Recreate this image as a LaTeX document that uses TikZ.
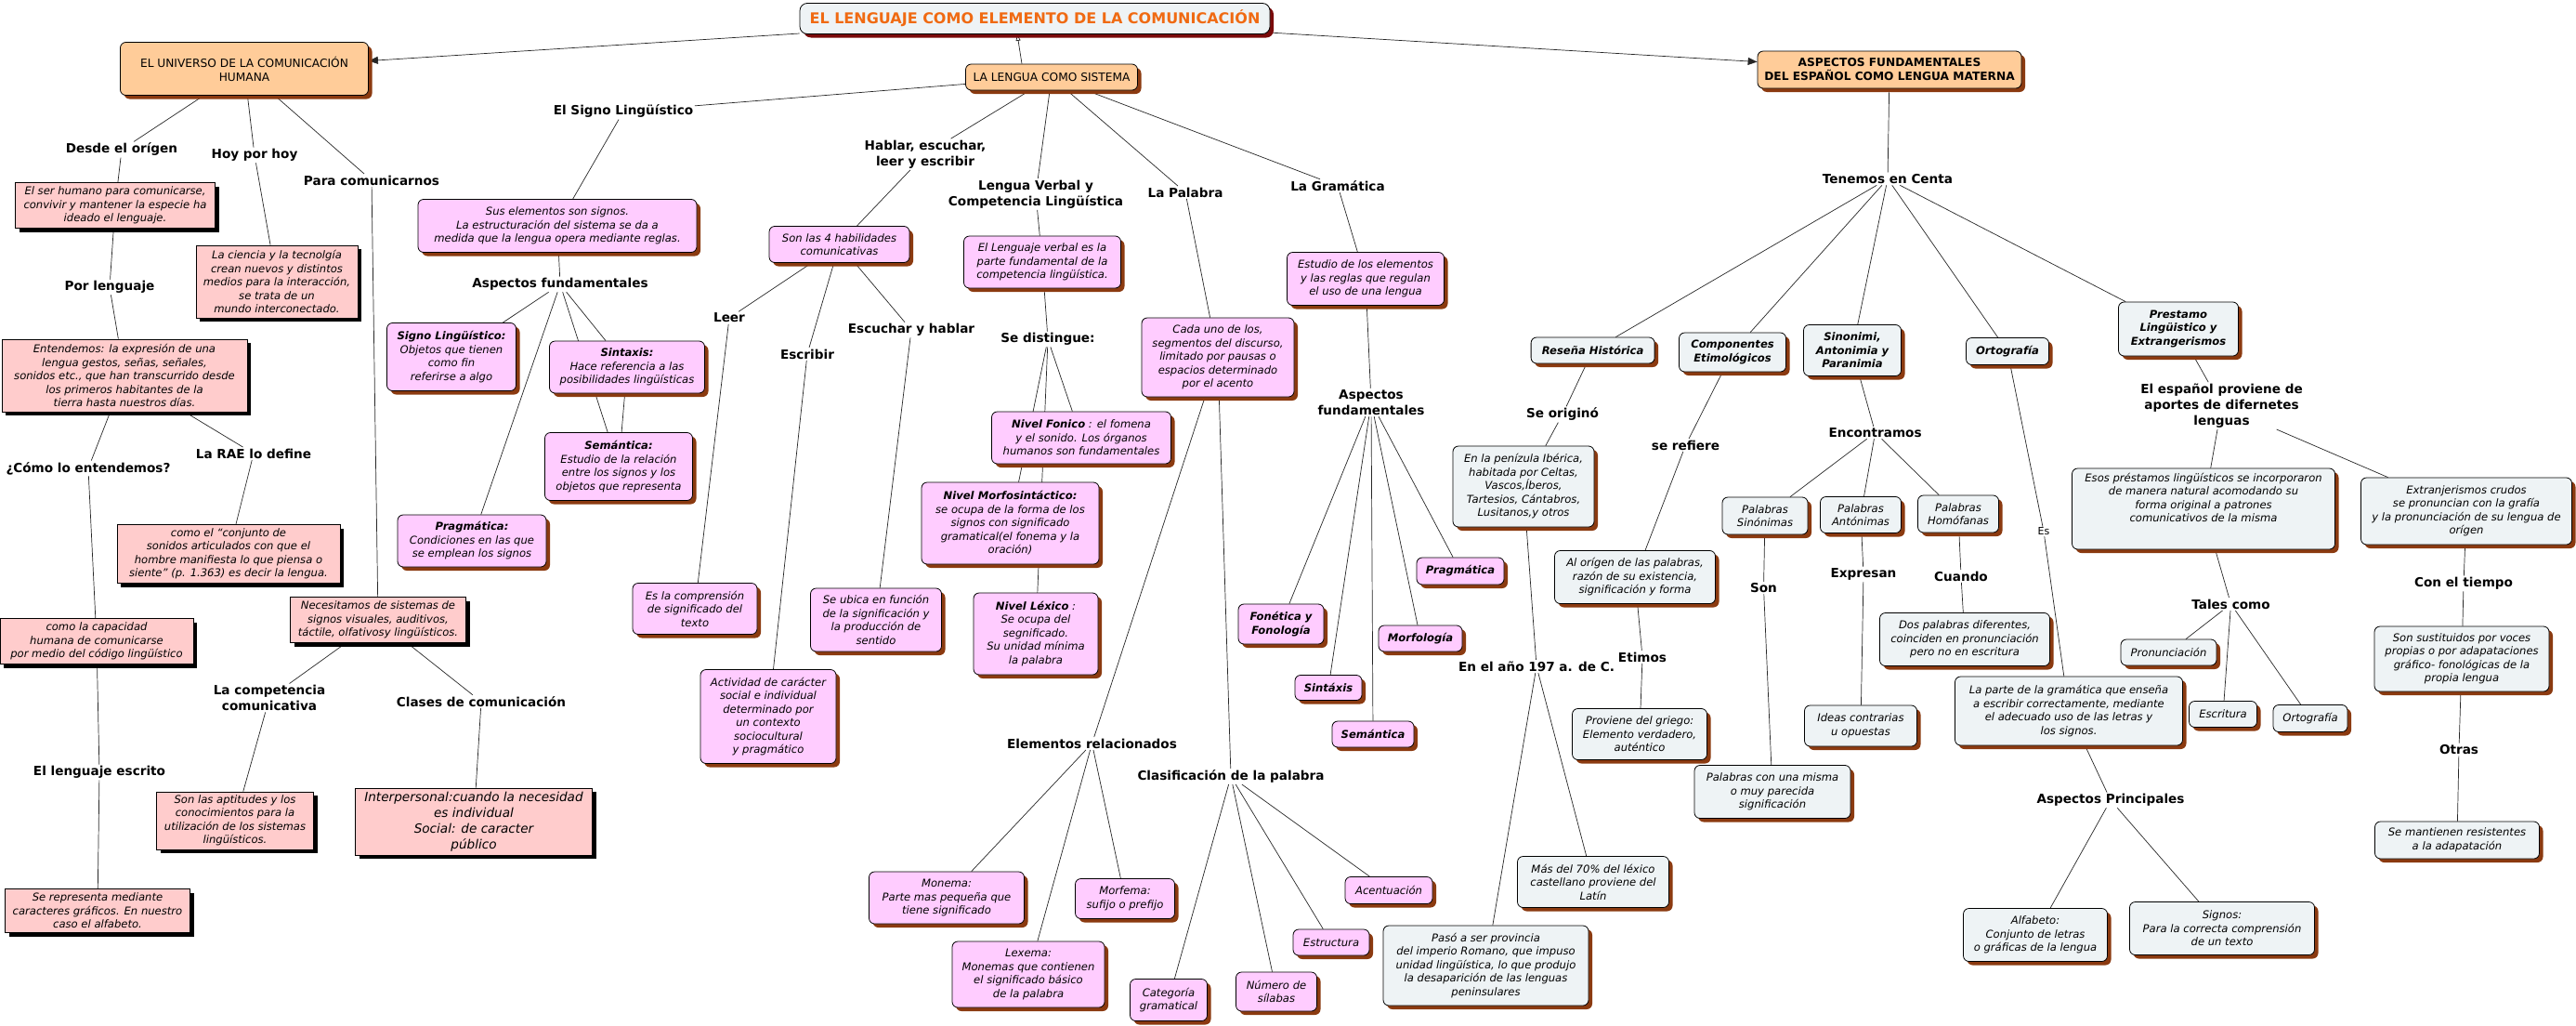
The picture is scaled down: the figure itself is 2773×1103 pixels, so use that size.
\documentclass[tikz,border=0pt]{standalone}
\usepackage{fontspec}
\setmainfont{DejaVu Sans}
\usepackage{tikz}
\usetikzlibrary{arrows.meta,shadows,calc}
\definecolor{peach}{HTML}{FFCC99}
\definecolor{salmon}{HTML}{FFCCCC}
\definecolor{lilac}{HTML}{FFCCFF}
\definecolor{paleblue}{HTML}{EEF3F5}
\definecolor{rust}{HTML}{8B3A10}
\definecolor{darkred}{HTML}{7A0A0A}
\definecolor{titleorange}{HTML}{F06A12}
\newcommand{\boxtext}{\fontsize{11.6}{14.5}\selectfont\itshape}
\newcommand{\linktext}{\fontsize{13.6}{17}\selectfont\bfseries}
\newcommand{\headtext}{\fontsize{12.2}{15}\selectfont}
\newcommand{\titletext}{\fontsize{16}{19}\selectfont\bfseries}
\pgfdeclarelayer{background}
\pgfsetlayers{background,main}

\begin{document}
\begin{tikzpicture}[
    x=1pt, y=-1pt,
    boxsize/.style 2 args={minimum width=#1pt, minimum height=#2pt},
    concept/.style={draw=black, line width=0.8pt, align=center, inner sep=2pt, font=\boxtext},
    rustshadow/.style={drop shadow={shadow xshift=4pt, shadow yshift=-4pt, fill=rust, opacity=1}},
    titlebox/.style={concept, rounded corners=8pt, fill=paleblue, font=\titletext, text=titleorange, drop shadow={shadow xshift=4pt, shadow yshift=-4pt, fill=darkred, opacity=1}},
    headbox/.style={concept, rounded corners=6pt, fill=peach, font=\headtext, rustshadow},
    salmonbox/.style={concept, fill=salmon, drop shadow={shadow xshift=4pt, shadow yshift=-4pt, fill=black, opacity=1}},
    pinkbox/.style={concept, rounded corners=6pt, fill=lilac, rustshadow},
    bluebox/.style={concept, rounded corners=6pt, fill=paleblue, rustshadow},
    phrase/.style={font=\linktext, align=center, inner sep=1.5pt},
    link/.style={draw=black!85, line width=0.7pt},
    headarrow/.style={link, -{Triangle[length=10pt, width=8pt]}},
    backarrow/.style={link, -{Triangle[open, length=7pt, width=5pt]}}
]
    \useasboundingbox (0,0) rectangle (2773,1103);

    % --- MAIN CONCEPTS ---
    \node[titlebox, boxsize={506}{33}] (title) at (1114,20) {EL LENGUAJE COMO ELEMENTO DE LA COMUNICACIÓN};
    \node[headbox, boxsize={267}{57}] (univ) at (263,74) {EL UNIVERSO DE LA COMUNICACIÓN\\HUMANA};
    \node[headbox, boxsize={185}{28}] (lengua) at (1132,83) {LA LENGUA COMO SISTEMA};
    \node[headbox, boxsize={284}{40}, font=\headtext\bfseries] (espanol) at (2034,75) {ASPECTOS FUNDAMENTALES\\DEL ESPAÑOL COMO LENGUA MATERNA};

    % --- EL UNIVERSO DE LA COMUNICACION ---
    \node[phrase] (desde) at (131,161) {Desde el orígen};
    \node[phrase] (hoy) at (274,167) {Hoy por hoy};
    \node[phrase] (paracom) at (400,194) {Para comunicarnos};
    \node[salmonbox, boxsize={215}{49}] (serhumano) at (124,221) {El ser humano para comunicarse,\\convivir y mantener la especie ha\\ideado el lenguaje.};
    \node[salmonbox, boxsize={174}{78}] (ciencia) at (298,303) {La ciencia y la tecnolgía\\crean nuevos y distintos\\medios para la interacción,\\se trata de un\\mundo interconectado.};
    \node[phrase] (porleng) at (118,309) {Por lenguaje};
    \node[salmonbox, boxsize={264}{78}] (entendemos) at (134,404) {Entendemos: la expresión de una\\lengua gestos, señas, señales,\\sonidos etc., que han transcurrido desde\\los primeros habitantes de la\\tierra hasta nuestros días.};
    \node[phrase] (como) at (95,504) {¿Cómo lo entendemos?};
    \node[phrase] (rae) at (273,488) {La RAE lo define};
    \node[salmonbox, boxsize={240}{63}] (conjunto) at (246,596) {como el “conjunto de\\sonidos articulados con que el\\hombre manifiesta lo que piensa o\\siente” (p. 1.363) es decir la lengua.};
    \node[salmonbox, boxsize={208}{49}] (capacidad) at (104,690) {como la capacidad\\humana de comunicarse\\por medio del código lingüístico};
    \node[phrase] (escrito) at (107,831) {El lenguaje escrito};
    \node[salmonbox, boxsize={199}{47}] (representa) at (105,980) {Se representa mediante\\caracteres gráficos. En nuestro\\caso el alfabeto.};
    \node[salmonbox, boxsize={189}{49}] (necesitamos) at (407,667) {Necesitamos de sistemas de\\signos visuales, auditivos,\\táctile, olfativosy lingüísticos.};
    \node[phrase] (competencia) at (290,751) {La competencia\\comunicativa};
    \node[phrase] (clases) at (518,755) {Clases de comunicación};
    \node[salmonbox, boxsize={169}{62}] (aptitudes) at (253,883) {Son las aptitudes y los\\conocimientos para la\\utilización de los sistemas\\lingüísticos.};
    \node[salmonbox, boxsize={255}{72}, font=\fontsize{13.6}{17}\selectfont\itshape] (interpersonal) at (510,884) {Interpersonal:cuando la necesidad\\es individual\\Social: de caracter\\público};

    % --- LA LENGUA COMO SISTEMA ---
    \node[phrase] (signo) at (671,120) {El Signo Lingüístico};
    \node[pinkbox, boxsize={300}{57}] (suselem) at (600,243) {Sus elementos son signos.\\La estructuración del sistema se da a\\medida que la lengua opera mediante reglas.};
    \node[phrase] (aspfund) at (603,306) {Aspectos fundamentales};
    \node[pinkbox, boxsize={139}{73}] (signoling) at (486,384) {\textbf{Signo Lingüístico:}\\Objetos que tienen\\como fin\\referirse a algo};
    \node[pinkbox, boxsize={167}{56}] (sintaxis) at (675,395) {\textbf{Sintaxis:}\\Hace referencia a las\\posibilidades lingüísticas};
    \node[pinkbox, boxsize={159}{73}] (semantica) at (666,502) {\textbf{Semántica:}\\Estudio de la relación\\entre los signos y los\\objetos que representa};
    \node[pinkbox, boxsize={160}{56}] (pragmatica) at (508,582) {\textbf{Pragmática:}\\Condiciones en las que\\se emplean los signos};

    \node[phrase] (hablar) at (996,166) {Hablar, escuchar,\\leer y escribir};
    \node[pinkbox, boxsize={151}{39}] (habilidades) at (903.5,263) {Son las 4 habilidades\\comunicativas};
    \node[phrase] (leer) at (785,342) {Leer};
    \node[phrase] (escribir) at (869,381) {Escribir};
    \node[phrase] (escuchar) at (981,355) {Escuchar y hablar};
    \node[pinkbox, boxsize={134}{55}] (comprension) at (748,655) {Es la comprensión\\de significado del\\texto};
    \node[pinkbox, boxsize={146}{101}] (actividad) at (827,771) {Actividad de carácter\\social e individual\\determinado por\\un contexto\\sociocultural\\y pragmático};
    \node[pinkbox, boxsize={141}{68}] (ubica) at (943,667) {Se ubica en función\\de la significación y\\la producción de\\sentido};

    \node[phrase] (verbal) at (1115,209) {Lengua Verbal y\\Competencia Lingüística};
    \node[pinkbox, boxsize={169}{56}] (lverbal) at (1122,282) {El Lenguaje verbal es la\\parte fundamental de la\\competencia lingüística.};
    \node[phrase] (distingue) at (1128,365) {Se distingue:};
    \node[pinkbox, boxsize={193}{56}] (fonico) at (1164,471) {\textbf{Nivel Fonico} : el fomena\\y el sonido. Los órganos\\humanos son fundamentales};
    \node[pinkbox, boxsize={191}{88}] (morfosint) at (1087.5,563) {\textbf{Nivel Morfosintáctico:}\\se ocupa de la forma de los\\signos con significado\\gramatical(el fonema y la\\oración)};
    \node[pinkbox, boxsize={134}{88}] (lexico) at (1115,682) {\textbf{Nivel Léxico} :\\Se ocupa del\\segnificado.\\Su unidad mínima\\la palabra};

    \node[phrase] (palabra) at (1276,207) {La Palabra};
    \node[pinkbox, boxsize={164}{85}] (segmentos) at (1311,384.5) {Cada uno de los,\\segmentos del discurso,\\limitado por pausas o\\espacios determinado\\por el acento};
    \node[phrase] (elementos) at (1175.5,800) {Elementos relacionados};
    \node[phrase] (clasif) at (1325,835.5) {Clasificación de la palabra};
    \node[pinkbox, boxsize={167}{56}] (monema) at (1019,966) {Monema:\\Parte mas pequeña que\\tiene significado};
    \node[pinkbox, boxsize={107}{43}] (morfema) at (1211,967) {Morfema:\\sufijo o prefijo};
    \node[pinkbox, boxsize={164}{71}] (lexema) at (1107,1048.5) {Lexema:\\Monemas que contienen\\el significado básico\\de la palabra};
    \node[pinkbox, boxsize={83}{45}] (categoria) at (1258,1076) {Categoría\\gramatical};
    \node[pinkbox, boxsize={87}{42}] (numero) at (1374,1067) {Número de\\sílabas};
    \node[pinkbox, boxsize={82}{28}] (estructura) at (1433,1014) {Estructura};
    \node[pinkbox, boxsize={94}{29}] (acentuacion) at (1495,958) {Acentuación};

    \node[phrase] (gramatica) at (1440,200) {La Gramática};
    \node[pinkbox, boxsize={169}{57}] (estudio) at (1470,300) {Estudio de los elementos\\y las reglas que regulan\\el uso de una lengua};
    \node[phrase] (aspfundb) at (1476,433) {Aspectos\\fundamentales};
    \node[pinkbox, boxsize={92}{43}, font=\boxtext\bfseries] (fonetica) at (1379,671.5) {Fonética y\\Fonología};
    \node[pinkbox, boxsize={72}{27}, font=\boxtext\bfseries] (sintaxisb) at (1430,740) {Sintáxis};
    \node[pinkbox, boxsize={88}{28}, font=\boxtext\bfseries] (semanticab) at (1478,790) {Semántica};
    \node[pinkbox, boxsize={90}{28}, font=\boxtext\bfseries] (morfologia) at (1529,687) {Morfología};
    \node[pinkbox, boxsize={94}{29}, font=\boxtext\bfseries] (pragmaticab) at (1572,614.5) {Pragmática};

    % --- ASPECTOS DEL ESPAÑOL ---
    \node[phrase] (tenemos) at (2032,192.5) {Tenemos en Centa};
    \node[bluebox, boxsize={133}{28}, font=\boxtext\bfseries] (resena) at (1714.6,377) {Reseña Histórica};
    \node[bluebox, boxsize={115}{42}, font=\boxtext\bfseries] (componentes) at (1865,379) {Componentes\\Etimológicos};
    \node[bluebox, boxsize={105}{55}, font=\boxtext\bfseries] (sinonimia) at (1994,377) {Sinonimi,\\Antonimia y\\Paranimia};
    \node[bluebox, boxsize={89}{29}, font=\boxtext\bfseries] (ortografia) at (2161,378) {Ortografía};
    \node[bluebox, boxsize={129}{58}, font=\boxtext\bfseries] (prestamo) at (2345,354) {Prestamo\\Lingüistico y\\Extrangerismos};

    \node[phrase] (origino) at (1682,446) {Se originó};
    \node[bluebox, boxsize={152}{87}] (peninsula) at (1640,523.5) {En la penízula Ibérica,\\habitada por Celtas,\\Vascos,Íberos,\\Tartesios, Cántabros,\\Lusitanos,y otros};
    \node[phrase] (ano) at (1654,717) {En el año 197 a. de C.};
    \node[bluebox, boxsize={221}{86}] (paso) at (1599.5,1039) {Pasó a ser provincia\\del imperio Romano, que impuso\\unidad lingüística, lo que produjo\\la desaparición de las lenguas\\peninsulares};
    \node[bluebox, boxsize={163}{55}] (latin) at (1715,949) {Más del 70\% del léxico\\castellano proviene del\\Latín};

    \node[phrase] (refiere) at (1814.5,479) {se refiere};
    \node[bluebox, boxsize={173}{57}] (origen) at (1760,621) {Al orígen de las palabras,\\razón de su existencia,\\significación y forma};
    \node[phrase] (etimos) at (1768,707) {Etimos};
    \node[bluebox, boxsize={145}{55}] (griego) at (1765,790) {Proviene del griego:\\Elemento verdadero,\\auténtico};

    \node[phrase] (encontramos) at (2018.6,465.5) {Encontramos};
    \node[bluebox, boxsize={92}{40}] (sinonimas) at (1900,555) {Palabras\\Sinónimas};
    \node[bluebox, boxsize={87}{39}] (antonimas) at (2003,554) {Palabras\\Antónimas};
    \node[bluebox, boxsize={87}{40}] (homofanas) at (2108,553) {Palabras\\Homófanas};
    \node[phrase] (son) at (1898.5,632.6) {Son};
    \node[bluebox, boxsize={168}{57}] (misma) at (1908,852) {Palabras con una misma\\o muy parecida\\significación};
    \node[phrase] (expresan) at (2006,618) {Expresan};
    \node[bluebox, boxsize={121}{44}] (ideas) at (2003,781) {Ideas contrarias\\u opuestas};
    \node[phrase] (cuando) at (2111,620) {Cuando};
    \node[bluebox, boxsize={183}{57}] (dospalabras) at (2115,688) {Dos palabras diferentes,\\coinciden en pronunciación\\pero no en escritura};

    \node[font=\fontsize{11}{13}\selectfont, inner sep=1pt] (es) at (2200,572) {Es};
    \node[bluebox, boxsize={245}{74}] (parte) at (2227,765) {La parte de la gramática que enseña\\a escribir correctamente, mediante\\el adecuado uso de las letras y\\los signos.};
    \node[phrase] (principales) at (2272,861) {Aspectos Principales};
    \node[bluebox, boxsize={155}{57}] (alfabeto) at (2191,1006) {Alfabeto:\\Conjunto de letras\\o gráficas de la lengua};
    \node[bluebox, boxsize={199}{57}] (signos) at (2392,999) {Signos:\\Para la correcta comprensión\\de un texto};

    \node[phrase] (proviene) at (2391.5,436.6) {El español proviene de\\aportes de difernetes\\lenguas};
    \node[bluebox, boxsize={283}{87}] (esos) at (2372,547.5) {Esos préstamos lingüísticos se incorporaron\\de manera natural acomodando su\\forma original a patrones\\comunicativos de la misma\\[10pt]};
    \node[bluebox, boxsize={227}{72}] (extranj) at (2655,550) {Extranjerismos crudos\\se pronuncian con la grafía\\y la pronunciación de su lengua de\\orígen};
    \node[phrase] (tales) at (2401.5,650) {Tales como};
    \node[bluebox, boxsize={103}{28}] (pronunciacion) at (2334.5,702) {Pronunciación};
    \node[bluebox, boxsize={73}{28}] (escritura) at (2393,768.5) {Escritura};
    \node[bluebox, boxsize={80}{29}] (ortografiab) at (2487,773) {Ortografía};
    \node[phrase] (tiempo) at (2652,628) {Con el tiempo};
    \node[bluebox, boxsize={188}{70}] (sustituidos) at (2650,709) {Son sustituidos por voces\\propias o por adapataciones\\gráfico- fonológicas de la\\propia lengua};
    \node[phrase] (otras) at (2647,806.5) {Otras};
    \node[bluebox, boxsize={177}{40}] (mantienen) at (2645,904) {Se mantienen resistentes\\a la adapatación};

    % --- CONNECTORS (behind the boxes) ---
    \begin{pgfonlayer}{background}
        \draw[headarrow] (title) -- (univ);
        \draw[headarrow] (title) -- (espanol);
        \draw[backarrow] ($(lengua.north)+(-32,0)$) -- ($(title.south)+(-19,0)$);

        \draw[link] (univ) -- (desde) (univ) -- (hoy) (univ) -- (paracom);
        \draw[link] (desde) -- (serhumano) -- (porleng) -- (entendemos);
        \draw[link] (entendemos) -- (como) -- (capacidad) -- (escrito) -- (representa);
        \draw[link] (entendemos) -- (rae) -- (conjunto);
        \draw[link] (hoy) -- (ciencia);
        \draw[link] (paracom) -- (necesitamos);
        \draw[link] (necesitamos) -- (competencia) -- (aptitudes);
        \draw[link] (necesitamos) -- (clases) -- (interpersonal);

        \draw[link] (lengua) -- (signo) -- (suselem) -- (aspfund);
        \draw[link] (aspfund) -- (signoling) (aspfund) -- (sintaxis) (aspfund) -- (semantica) (aspfund) -- (pragmatica) (sintaxis) -- (semantica);
        \draw[link] (lengua) -- (hablar) -- (habilidades);
        \draw[link] (habilidades) -- (leer) -- (comprension);
        \draw[link] (habilidades) -- (escribir) -- (actividad);
        \draw[link] (habilidades) -- (escuchar) -- (ubica);
        \draw[link] (lengua) -- (verbal) -- (lverbal) -- (distingue);
        \draw[link] (distingue) -- (fonico) (distingue) -- (morfosint) (distingue) -- (lexico);
        \draw[link] (lengua) -- (palabra) -- (segmentos);
        \draw[link] (segmentos) -- (elementos) (segmentos) -- (clasif);
        \draw[link] (elementos) -- (monema) (elementos) -- (lexema) (elementos) -- (morfema);
        \draw[link] (clasif) -- (categoria) (clasif) -- (numero) (clasif) -- (estructura) (clasif) -- (acentuacion);
        \draw[link] (lengua) -- (gramatica) -- (estudio) -- (aspfundb);
        \draw[link] (aspfundb) -- (fonetica) (aspfundb) -- (sintaxisb) (aspfundb) -- (semanticab) (aspfundb) -- (morfologia) (aspfundb) -- (pragmaticab);

        \draw[link] (espanol) -- (tenemos);
        \draw[link] (tenemos) -- (resena) (tenemos) -- (componentes) (tenemos) -- (sinonimia) (tenemos) -- (ortografia) (tenemos) -- (prestamo);
        \draw[link] (resena) -- (origino) -- (peninsula) -- (ano);
        \draw[link] (ano) -- (paso) (ano) -- (latin);
        \draw[link] (componentes) -- (refiere) -- (origen) -- (etimos) -- (griego);
        \draw[link] (sinonimia) -- (encontramos);
        \draw[link] (encontramos) -- (sinonimas) (encontramos) -- (antonimas) (encontramos) -- (homofanas);
        \draw[link] (sinonimas) -- (son) -- (misma);
        \draw[link] (antonimas) -- (expresan) -- (ideas);
        \draw[link] (homofanas) -- (cuando) -- (dospalabras);
        \draw[link] (ortografia) -- (es) -- (parte) -- (principales);
        \draw[link] (principales) -- (alfabeto) (principales) -- (signos);
        \draw[link] (prestamo) -- (proviene);
        \draw[link] (proviene) -- (esos) (proviene) -- (extranj);
        \draw[link] (esos) -- (tales);
        \draw[link] (tales) -- (pronunciacion) (tales) -- (escritura) (tales) -- (ortografiab);
        \draw[link] (extranj) -- (tiempo) -- (sustituidos) -- (otras) -- (mantienen);
    \end{pgfonlayer}
\end{tikzpicture}
\end{document}
